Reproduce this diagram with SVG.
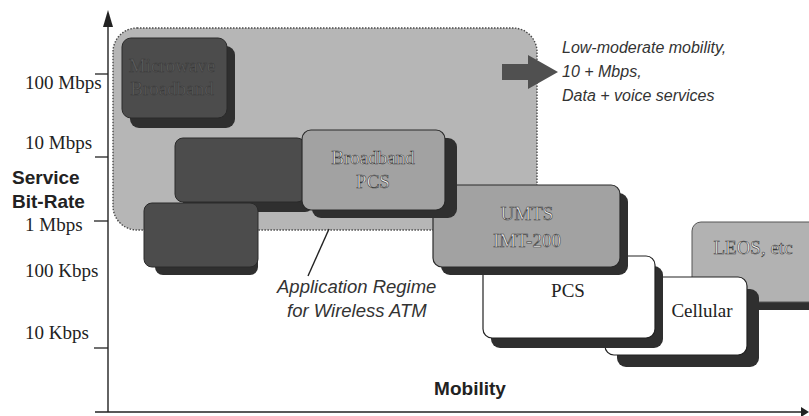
<svg xmlns="http://www.w3.org/2000/svg" width="809" height="416" viewBox="0 0 809 416">
<style>
.tick{stroke:#222;stroke-width:1.3;fill:none}
.axis{stroke:#222;stroke-width:1.4;fill:none}
.ylab{font-family:"Liberation Serif","Times New Roman",serif;font-size:19px;fill:#222}
.bold{font-family:"Liberation Sans",Arial,sans-serif;font-weight:bold;font-size:19px;fill:#222}
.ital{font-family:"Liberation Sans",Arial,sans-serif;font-style:italic;fill:#333}
.boxlab{font-family:"Liberation Serif","Times New Roman",serif;font-size:19px;text-anchor:middle}
.onGray{fill:#f2f2f2;stroke:#3a3a3a;stroke-width:0.6}
.onDark{fill:#5e5e5e;stroke:#383838;stroke-width:0.5}
.onWhite{fill:#222}
.shadow{fill:#2f2f2f}
.dark{fill:#4c4c4c;stroke:#2a2a2a;stroke-width:1}
.mid{fill:#a2a2a2;stroke:#2a2a2a;stroke-width:1.2}
.light{fill:#b2b2b2;stroke:#555;stroke-width:1}
.white{fill:#ffffff;stroke:#222;stroke-width:1.2}
</style>
<rect width="809" height="416" fill="#ffffff"/>

<g id="axes">
  <line class="axis" x1="108" y1="22" x2="108" y2="412"/>
  <polygon points="108,10 103,27 113,27" fill="#222"/>
  <line class="axis" x1="95" y1="412" x2="803" y2="412"/>
  <polygon points="809,412 801,407 801,417" fill="#222"/>
  <line class="tick" x1="95" y1="74" x2="108" y2="74"/>
  <line class="tick" x1="95" y1="157" x2="108" y2="157"/>
  <line class="tick" x1="94" y1="221" x2="108" y2="221"/>
  <line class="tick" x1="94" y1="348" x2="108" y2="348"/>
  <text class="ylab" x="25" y="89">100 Mbps</text>
  <text class="ylab" x="25" y="149">10 Mbps</text>
  <text class="ylab" x="25" y="231">1 Mbps</text>
  <text class="ylab" x="25" y="277">100 Kbps</text>
  <text class="ylab" x="25" y="339">10 Kbps</text>
  <text class="bold" x="12" y="184">Service</text>
  <text class="bold" x="12" y="208">Bit-Rate</text>
  <text class="bold" x="470" y="395" text-anchor="middle">Mobility</text>
</g>

<g id="wireless-atm-regime">
  <rect x="113" y="28" width="424" height="202" rx="24" fill="#b6b6b6" stroke="#4a4a4a" stroke-width="1.4" stroke-dasharray="1.5,1.5"/>
  <polygon points="502,64 528,64 528,55 558,72 528,89 528,80 502,80" fill="#505050"/>
  <text class="ital" font-size="16" x="562" y="53">Low-moderate mobility,</text>
  <text class="ital" font-size="16" x="562" y="77">10 + Mbps,</text>
  <text class="ital" font-size="16" x="562" y="101">Data + voice services</text>
</g>

<g id="microwave">
  <rect class="shadow" x="130" y="46" width="105" height="82" rx="9"/>
  <rect class="dark" x="122" y="38" width="105" height="80" rx="9"/>
  <text class="boxlab onDark" x="172" y="72">Microwave</text>
  <text class="boxlab onDark" x="172" y="95">Broadband</text>
</g>

<g id="dark-box-2">
  <rect class="shadow" x="183" y="147" width="130" height="65" rx="8"/>
  <rect class="dark" x="175" y="138" width="130" height="64" rx="8"/>
</g>

<g id="dark-box-3">
  <rect class="shadow" x="155" y="211" width="103" height="64" rx="8"/>
  <rect class="dark" x="144" y="203" width="114" height="64" rx="8"/>
</g>

<g id="leos">
  <rect class="shadow" x="700" y="230" width="130" height="80" rx="9"/>
  <rect class="light" x="692" y="222" width="130" height="80" rx="9"/>
  <text class="boxlab onGray" x="753" y="254">LEOS, etc</text>
</g>

<g id="cellular">
  <rect class="shadow" x="617" y="289" width="142" height="78" rx="9"/>
  <rect class="white" x="605" y="277" width="142" height="78" rx="9"/>
  <text class="boxlab onWhite" x="702" y="317">Cellular</text>
</g>

<g id="pcs">
  <rect class="shadow" x="491" y="266" width="172" height="82" rx="9"/>
  <rect class="white" x="483" y="256" width="172" height="82" rx="9"/>
  <text class="boxlab onWhite" x="568" y="297">PCS</text>
</g>

<g id="umts">
  <rect class="shadow" x="441" y="193" width="187" height="82" rx="9"/>
  <rect class="mid" x="433" y="185" width="187" height="82" rx="9"/>
  <text class="boxlab onGray" x="527" y="220">UMTS</text>
  <text class="boxlab onGray" x="527" y="247">IMT-200</text>
</g>

<g id="broadband-pcs">
  <rect class="shadow" x="312" y="138" width="145" height="80" rx="9"/>
  <rect class="mid" x="302" y="130" width="143" height="80" rx="9"/>
  <text class="boxlab onGray" x="373" y="164">Broadband</text>
  <text class="boxlab onGray" x="373" y="188">PCS</text>
</g>

<g id="connectors">
  <line x1="329" y1="229" x2="308" y2="276" stroke="#222" stroke-width="1.4"/>
  <text class="ital" font-size="18.5" x="277" y="293">Application Regime</text>
  <text class="ital" font-size="18.5" x="287" y="317">for Wireless ATM</text>
</g>
</svg>
